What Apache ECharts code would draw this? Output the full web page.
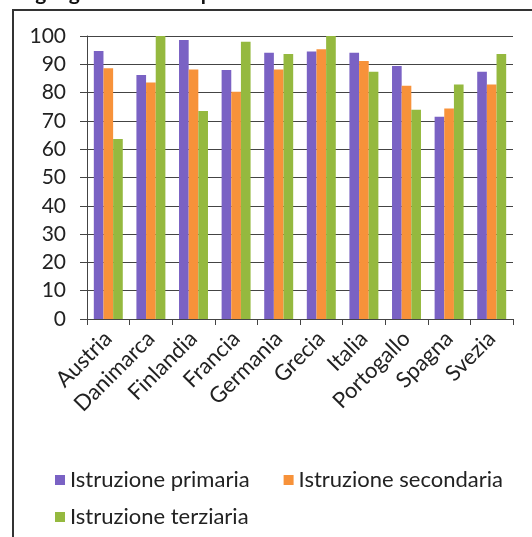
<!DOCTYPE html>
<html><head><meta charset="utf-8">
<script src="https://cdn.jsdelivr.net/npm/echarts@6/dist/echarts.min.js"></script>
<style>html,body{margin:0;padding:0;background:#fff}#c{width:532px;height:537px}</style>
</head><body><div id="c"></div>
<script>
const categories = ['Austria','Danimarca','Finlandia','Francia','Germania','Grecia','Italia','Portogallo','Spagna','Svezia'];
const primaria   = [94.7, 86.2, 98.6, 88.0, 94.1, 94.5, 94.1, 89.4, 71.5, 87.4];
const secondaria = [88.6, 83.6, 88.2, 80.3, 88.2, 95.3, 91.2, 82.4, 74.4, 82.9];
const terziaria  = [63.6, 100, 73.5, 98.0, 93.6, 100, 87.4, 73.9, 82.9, 93.6];
const seriesNames = ['Istruzione primaria','Istruzione secondaria','Istruzione terziaria'];
const titleText = 'Ineguaglianza: valori percentuali riferiti anno 2004';

const colors = ['#7a62c4','#f7923a','#95b93f'];
const font = 'Lato, "Open Sans", sans-serif';
const chart = echarts.init(document.getElementById('c'));
const mk = (name, data, i) => ({
  name, type: 'bar', data, barGap: '0%', barCategoryGap: '32%',
  itemStyle: { color: colors[i] }
});
chart.setOption({
  animation: false,
  graphic: [
    { type: 'text', left: 6, top: -17, style: { text: titleText, font: 'bold 21px ' + font, fill: '#111' } },
    { type: 'rect', shape: { x: 13, y: 10, width: 540, height: 540 }, style: { fill: 'none', stroke: '#333', lineWidth: 2 } }
  ],
  grid: { left: 87, right: 19, top: 36, bottom: 537 - 319 },
  legend: [
    { data: [seriesNames[0], seriesNames[1]], left: 50, top: 464, itemWidth: 10, itemHeight: 10, itemGap: 34, icon: 'rect',
      textStyle: { fontFamily: font, fontSize: 22, color: '#222' } },
    { data: [seriesNames[2]], left: 50, top: 501, itemWidth: 10, itemHeight: 10, icon: 'rect',
      textStyle: { fontFamily: font, fontSize: 22, color: '#222' } }
  ],
  xAxis: {
    type: 'category', data: categories,
    axisLine: { lineStyle: { color: '#444', width: 1 } },
    axisTick: { show: true, length: 6, lineStyle: { color: '#444' } },
    axisLabel: { rotate: 45, interval: 0, fontFamily: font, fontSize: 22, color: '#222', margin: 16 }
  },
  yAxis: {
    type: 'value', min: 0, max: 100, interval: 10,
    axisLine: { show: true, lineStyle: { color: '#444', width: 1 } },
    axisTick: { show: true, length: 7, lineStyle: { color: '#444' } },
    splitLine: { lineStyle: { color: '#444', width: 1 } },
    axisLabel: { fontFamily: font, fontSize: 21, color: '#222', margin: 21 }
  },
  series: [mk(seriesNames[0], primaria, 0), mk(seriesNames[1], secondaria, 1), mk(seriesNames[2], terziaria, 2)]
});
</script></body></html>
